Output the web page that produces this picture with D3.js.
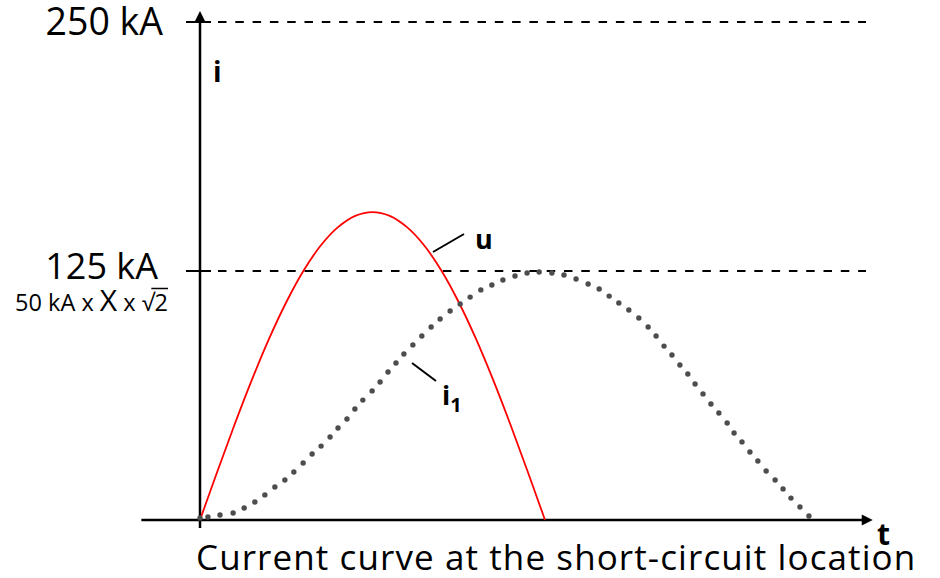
<!DOCTYPE html>
<html>
<head>
<meta charset="utf-8">
<script src="https://cdn.jsdelivr.net/npm/d3@7/dist/d3.min.js"></script>
<style>
  html, body { margin: 0; padding: 0; background: #fff; }
  svg { display: block; font-family: "Open Sans", "Noto Sans", sans-serif; }
</style>
</head>
<body>
<svg id="chart" width="940" height="578"></svg>
<script>
// Time in ms, current in kA
const refLevels = [125, 250];
const refLabels = ["125 kA", "250 kA"];

// Voltage half-wave u
const uTime = [0, 0.5, 1, 1.5, 2, 2.5, 3, 3.5, 4, 4.5, 5, 5.5, 6, 6.5, 7, 7.5, 8, 8.5, 9, 9.5, 10];
const uValue = [0, 24.2, 47.8, 70.2, 90.9, 109.3, 125.1, 137.8, 147.0, 152.7, 154.6,
                152.7, 147.0, 137.8, 125.1, 109.3, 90.9, 70.2, 47.8, 24.2, 0];

// Short-circuit current i1 (sampled points)
const iTime = [0, 0.23, 0.58, 0.96, 1.28, 1.59, 1.88, 2.17, 2.46, 2.72, 2.99, 3.25, 3.51, 3.77,
  4.00, 4.26, 4.49, 4.72, 4.99, 5.22, 5.45, 5.68, 5.91, 6.17, 6.43, 6.70, 6.96, 7.25, 7.54,
  7.83, 8.14, 8.46, 8.78, 9.13, 9.48, 9.83, 10.20, 10.55, 10.90, 11.25, 11.57, 11.86, 12.14,
  12.43, 12.72, 12.99, 13.22, 13.45, 13.68, 13.91, 14.14, 14.35, 14.58, 14.81, 15.04, 15.28,
  15.48, 15.71, 15.94, 16.17, 16.41, 16.67, 16.90, 17.13, 17.39, 17.65];
const iValue = [1.0, 1.5, 2.5, 3.5, 6.0, 9.0, 12.6, 16.6, 20.1, 24.1, 28.6, 33.1, 37.1, 41.7,
  46.2, 50.7, 55.7, 60.2, 64.8, 69.3, 74.3, 78.8, 83.3, 87.9, 92.4, 96.9, 100.9, 104.9, 108.4,
  111.9, 115.5, 118.0, 120.5, 122.5, 124.0, 124.5, 124.0, 123.0, 121.0, 118.5, 116.0, 112.4,
  108.9, 105.4, 101.4, 96.9, 92.4, 87.3, 82.8, 77.8, 73.3, 68.3, 63.3, 58.2, 53.7, 48.7,
  43.7, 39.2, 34.1, 29.6, 24.6, 20.1, 15.6, 11.0, 6.5, 2.0];

// Axis extents
const tAxis = [-1.7, 19.5];
const iAxis = [-4, 255.5];

const svg = d3.select("#chart");
const x = d3.scaleLinear().domain([0, 10]).range([200, 545]);
const y = d3.scaleLinear().domain([0, 250]).range([520, 22]);

const x0 = x(0), y0 = y(0);

// Reference levels: short solid tick across the axis, then a dashed line
refLevels.forEach(v => {
  svg.append("line")
    .attr("x1", x0 - 14).attr("x2", x0 + 11)
    .attr("y1", y(v)).attr("y2", y(v))
    .attr("stroke", "#000").attr("stroke-width", 2);
  svg.append("line")
    .attr("x1", x0 + 18).attr("x2", 866)
    .attr("y1", y(v)).attr("y2", y(v))
    .attr("stroke", "#000").attr("stroke-width", 2)
    .attr("stroke-dasharray", "8.5 8.8");
});

// Axes with arrow heads
svg.append("line")
  .attr("x1", x0).attr("x2", x0)
  .attr("y1", y(iAxis[0])).attr("y2", y(iAxis[1]) + 6)
  .attr("stroke", "#000").attr("stroke-width", 2.5);
svg.append("path")
  .attr("d", `M${x0},${y(iAxis[1])} L${x0 - 5.5},${y(iAxis[1]) + 11} L${x0 + 5.5},${y(iAxis[1]) + 11} Z`)
  .attr("fill", "#000");

svg.append("line")
  .attr("x1", x(tAxis[0])).attr("x2", x(tAxis[1]) - 6)
  .attr("y1", y0).attr("y2", y0)
  .attr("stroke", "#000").attr("stroke-width", 2.5);
svg.append("path")
  .attr("d", `M${x(tAxis[1])},${y0} L${x(tAxis[1]) - 11},${y0 - 5.5} L${x(tAxis[1]) - 11},${y0 + 5.5} Z`)
  .attr("fill", "#000");

// Voltage curve
const uLine = d3.line()
  .x((d, k) => x(uTime[k]))
  .y(d => y(d))
  .curve(d3.curveCatmullRom.alpha(0.5));
svg.append("path")
  .attr("d", uLine(uValue))
  .attr("fill", "none")
  .attr("stroke", "#ff0000")
  .attr("stroke-width", 1.8);

// Current curve as dots
svg.append("g").selectAll("circle")
  .data(iValue)
  .join("circle")
  .attr("cx", (d, k) => x(iTime[k]))
  .attr("cy", d => y(d))
  .attr("r", 2.7)
  .attr("fill", "#4d4d4d");

// Level labels
svg.append("text")
  .attr("x", 163).attr("y", y(250) + 13)
  .attr("text-anchor", "end")
  .attr("font-size", 37.5)
  .text(refLabels[1]);
svg.append("text")
  .attr("x", 158).attr("y", y(125) + 8)
  .attr("text-anchor", "end")
  .attr("font-size", 36)
  .text(refLabels[0]);

const formula = svg.append("text")
  .attr("x", 168).attr("y", 311)
  .attr("text-anchor", "end")
  .attr("font-size", 23.5);
formula.append("tspan").text("50 kA x ");
formula.append("tspan").attr("font-size", 30).text("X");
formula.append("tspan").text(" x √2");
// Overline for the square root
{
  const node = formula.node();
  const n = node.getNumberOfChars();
  const rootStart = node.getStartPositionOfChar(n - 2);
  const end = node.getEndPositionOfChar(n - 1);
  const ext = node.getExtentOfChar(n - 2);
  svg.append("line")
    .attr("x1", rootStart.x + ext.width * 0.75).attr("x2", end.x)
    .attr("y1", ext.y + 2.5).attr("y2", ext.y + 2.5)
    .attr("stroke", "#000").attr("stroke-width", 1.5);
}

// Series and axis names
svg.append("text")
  .attr("x", 213).attr("y", 82)
  .attr("font-size", 28).attr("font-weight", "bold")
  .text("i");
svg.append("text")
  .attr("x", 475).attr("y", 249)
  .attr("font-size", 27).attr("font-weight", "bold")
  .text("u");
const i1 = svg.append("text")
  .attr("x", 442).attr("y", 405)
  .attr("font-size", 27).attr("font-weight", "bold");
i1.append("tspan").text("i");
i1.append("tspan").attr("font-size", 20).attr("dy", 7).text("1");
svg.append("text")
  .attr("x", 877).attr("y", 545)
  .attr("font-size", 30).attr("font-weight", "bold")
  .text("t");

// Leader lines
svg.append("line")
  .attr("x1", 433).attr("y1", 252).attr("x2", 464).attr("y2", 234)
  .attr("stroke", "#000").attr("stroke-width", 2);
svg.append("line")
  .attr("x1", 412).attr("y1", 363).attr("x2", 436).attr("y2", 381)
  .attr("stroke", "#000").attr("stroke-width", 2);

// Caption
svg.append("text")
  .attr("x", 196).attr("y", 570)
  .attr("font-size", 35)
  .attr("letter-spacing", 1.1)
  .text("Current curve at the short-circuit location");
</script>
</body>
</html>
